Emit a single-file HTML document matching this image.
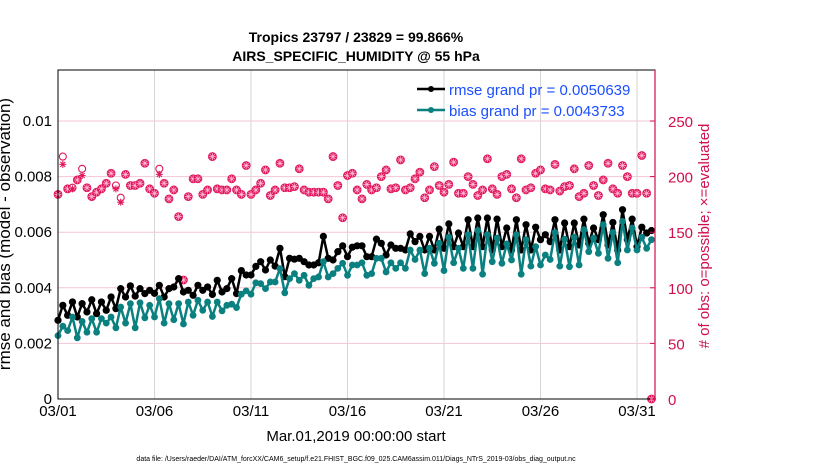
<!DOCTYPE html>
<html><head><meta charset="utf-8"><style>
body{margin:0;background:#fff;}
svg{display:block;font-family:"Liberation Sans",Arial,sans-serif;}
</style></head><body>
<svg id="chart" width="830" height="470" viewBox="0 0 830 470">
<text x="356" y="42" text-anchor="middle" font-size="14" font-weight="bold">Tropics 23797 / 23829 = 99.866%</text>
<text x="356" y="61" text-anchor="middle" font-size="14" font-weight="bold">AIRS_SPECIFIC_HUMIDITY @ 55 hPa</text>
<g id="grid"></g>
<g id="marks"></g>
<rect x="58" y="70" width="597" height="329" fill="none" stroke="#000" stroke-width="1"/>
<line x1="655" y1="70" x2="655" y2="399" stroke="#d0104c" stroke-width="1.2"/>
<g id="axes"></g>
<text transform="translate(10,234) rotate(-90)" text-anchor="middle" font-size="17">rmse and bias (model - observation)</text>
<text transform="translate(709,236) rotate(-90)" text-anchor="middle" font-size="15" fill="#d0104c"># of obs: o=possible; ×=evaluated</text>
<text x="356" y="441" text-anchor="middle" font-size="15">Mar.01,2019 00:00:00 start</text>
<text x="356" y="461" text-anchor="middle" font-size="7">data file: /Users/raeder/DAI/ATM_forcXX/CAM6_setup/f.e21.FHIST_BGC.f09_025.CAM6assim.011/Diags_NTrS_2019-03/obs_diag_output.nc</text>
<g>
<line x1="417" y1="89" x2="445" y2="89" stroke="#000" stroke-width="2.5"/>
<circle cx="431" cy="89" r="3" fill="#000"/>
<text x="449" y="95" font-size="15" fill="#1a4fff">rmse grand pr = 0.0050639</text>
<line x1="417" y1="110" x2="445" y2="110" stroke="#0a8080" stroke-width="2.5"/>
<circle cx="431" cy="110" r="3" fill="#0a8080"/>
<text x="449" y="116" font-size="15" fill="#1a4fff">bias grand pr = 0.0043733</text>
</g>
</svg>
<script>
const rmse = [2.83,3.37,3.01,3.49,2.95,3.43,3.13,3.57,3.07,3.49,3.19,3.67,3.25,3.97,3.67,4.07,3.70,3.97,3.79,3.91,3.80,4.09,3.67,3.97,4.03,4.33,3.85,3.91,3.73,4.09,3.91,4.03,3.76,4.27,3.85,3.97,4.33,3.79,4.62,4.46,4.46,4.77,
4.94,4.64,5.0,4.78,5.42,4.4,5.06,5.03,5.06,4.94,4.82,4.82,4.9,5.85,5.06,5.0,5.30,5.51,5.12,5.46,5.51,5.51,5.12,5.12,5.75,5.60,5.18,5.54,5.42,5.42,5.36,5.94,5.66,5.85,5.36,5.85,5.36,6.11,5.42,6.30,5.48,5.97,
5.48,6.45,5.48,6.51,5.48,6.51,5.36,6.47,5.48,6.15,5.36,6.45,5.36,6.27,5.36,6.18,5.73,5.91,5.66,6.45,5.36,6.33,5.48,6.33,5.54,6.47,5.60,6.15,5.73,6.63,5.54,6.35,5.36,6.81,5.73,6.47,5.48,6.18,5.97,6.06];
const bias = [2.28,2.62,2.46,2.95,2.20,2.79,2.40,2.89,2.40,2.89,2.73,2.95,2.56,3.31,2.73,3.43,2.56,3.46,2.92,3.37,2.95,3.61,2.73,3.43,2.85,3.43,2.70,3.49,3.01,3.55,3.19,3.49,2.97,3.49,3.17,3.37,3.41,3.29,3.77,3.89,3.77,4.18,
4.15,3.97,4.21,4.21,4.69,3.82,4.33,4.51,4.27,4.45,4.09,4.33,4.39,4.94,4.39,4.51,4.70,4.88,4.45,4.82,4.82,4.90,4.45,4.51,5.06,5.06,4.57,4.90,4.70,4.90,4.70,5.36,5.02,5.36,4.51,5.42,4.88,5.60,4.62,5.82,4.90,5.42,
4.70,5.91,4.70,6.06,4.49,5.91,4.94,5.79,4.88,5.58,5.0,5.91,4.49,5.73,4.78,5.48,4.82,5.18,5.02,5.99,4.78,5.75,4.76,5.82,4.82,6.09,5.30,5.79,5.24,6.27,5.06,5.99,4.90,6.39,5.36,6.15,5.36,5.82,5.42,5.73];
const nEval = [184,211,189,189,197,201,190,182,186,189,194,203,189,177,202,192,192,194,212,189,185,202,194,180,188,164,107,182,198,198,184,188,218,189,188,188,198,188,184,210,184,
188,194,206,183,188,212,190,190,191,207,188,186,186,186,186,180,218,192,163,201,203,188,180,193,188,190,200,206,189,190,215,188,190,198,204,181,188,209,192,186,193,213,
185,185,200,193,183,188,216,189,184,200,202,189,181,216,188,190,203,206,189,188,211,187,191,192,207,182,185,210,192,183,197,212,189,185,210,200,185,185,219,185,0];
const nPoss = [184,218,189,190,197,207,190,182,186,189,194,203,192,181,202,192,192,194,212,189,185,207,194,180,188,164,107,182,198,198,184,188,218,189,188,188,198,188,184,210,184,
188,194,206,183,188,212,190,190,191,207,188,186,186,186,186,180,218,192,163,201,203,188,180,193,188,190,200,206,189,190,215,188,190,198,204,181,188,209,192,186,193,213,
185,185,200,193,183,188,216,189,184,200,202,189,181,216,188,190,203,206,189,188,211,187,191,192,207,182,185,210,192,183,197,212,189,185,210,200,185,185,219,185,0];
const xTickLabels = ["03/01","03/06","03/11","03/16","03/21","03/26","03/31"];
const xTickDays = [0,5,10,15,20,25,30];
const yLeftTicks = [0,0.002,0.004,0.006,0.008,0.01];
const yRightTicks = [0,50,100,150,200,250];

const NS="http://www.w3.org/2000/svg";
const X0=58, DAY=19.3, Y0=399;
const xs = d => X0 + d*DAY;
const yL = v => Y0 - v/0.01*278;
const yR = v => Y0 - v/250*278;
function mk(tag, attrs, parent){const e=document.createElementNS(NS,tag);for(const k in attrs)e.setAttribute(k,attrs[k]);parent.appendChild(e);return e;}
const grid=document.getElementById('grid'), marks=document.getElementById('marks'), axes=document.getElementById('axes');

yRightTicks.forEach(v=>{ if(v===0)return;
  const l=mk('line',{x1:58,x2:655,y1:yR(v),y2:yR(v),stroke:'#f3c6d4','stroke-width':1},grid);
  
  
});
xTickDays.forEach((d,i)=>{
  if(d>0){const g=mk('line',{x1:xs(d),x2:xs(d),y1:70,y2:399,stroke:'#d6d6d6','stroke-width':1},grid);
  
  }
  const t=mk('text',{x:xs(d),y:416,'text-anchor':'middle','font-size':15},axes);
  t.textContent=xTickLabels[i];
  
  
});
yLeftTicks.forEach(v=>{
  const t=mk('text',{x:52,y:yL(v)+5,'text-anchor':'end','font-size':15},axes);
  t.textContent=String(v);
  
  
});
yRightTicks.forEach(v=>{
  mk('line',{x1:650,x2:655,y1:yR(v),y2:yR(v),stroke:'#d0104c'},axes);
  const t=mk('text',{x:668,y:yR(v)+6,'text-anchor':'start','font-size':15,fill:'#d0104c'},axes);
  t.textContent=String(v);
  
  
});

// obs counts
nEval.forEach((v,i)=>{
  const x=xs(i*0.25), y=yR(v), yp=yR(nPoss[i]);
  const same = Math.abs(yp-y)<1;
  if(!same){
    const oc=mk('circle',{cx:x,cy:yp,r:3.5,fill:'#fff',stroke:'#e0185a','stroke-width':1.1},marks);
    
    
  }
  const c=mk('circle',{cx:x,cy:y,r:3.9,fill:(same?'#e0185a':'none'),stroke:(same?'#e0185a':'none')},marks);
  
  
  const s=mk('path',{d:`M${x-3.5},${y}H${x+3.5}M${x},${y-3.5}V${y+3.5}M${x-2.5},${y-2.5}L${x+2.5},${y+2.5}M${x-2.5},${y+2.5}L${x+2.5},${y-2.5}`,stroke:(same?'#fbd':'#e0185a'),'stroke-width':(same?0.7:1.1)},marks);
  
  
});

function series(vals,color,name,r){
  const d=vals.map((v,i)=>(i?'L':'M')+xs(i*0.25).toFixed(1)+','+yL(v/1000).toFixed(1)).join('');
  const p=mk('path',{d:d,fill:'none',stroke:color,'stroke-width':2.5,'stroke-linejoin':'round'},marks);
  
  
  vals.forEach((v,i)=>{
    const c=mk('circle',{cx:xs(i*0.25),cy:yL(v/1000),r:r,fill:color},marks);
    
    
  });
}
series(rmse,'#000','rmse',3.6);
series(bias,'#0a8080','bias',3.4);
</script>
</body></html>
